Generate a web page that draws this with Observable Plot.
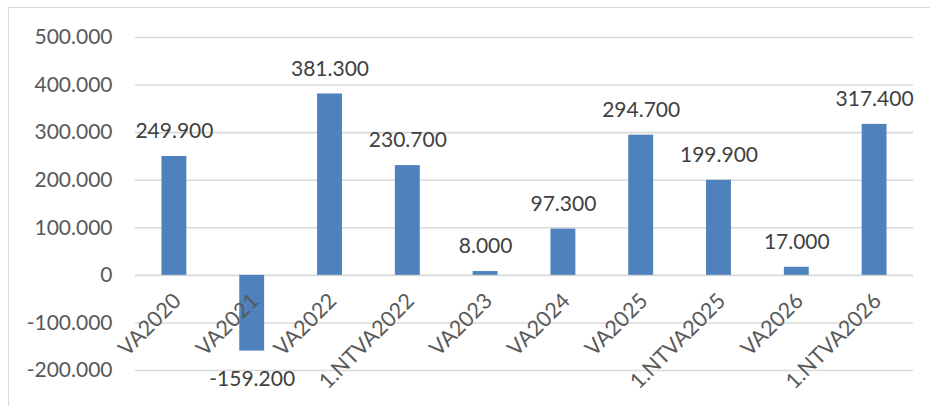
<!DOCTYPE html>
<html><head><meta charset="utf-8">
<script src="https://cdn.jsdelivr.net/npm/d3@7"></script>
<script src="https://cdn.jsdelivr.net/npm/@observablehq/plot@0.6"></script>
<style>
body{margin:0;background:#fff;}
#wrap{position:relative;width:930px;height:406px;overflow:hidden;}
#border{position:absolute;left:8px;top:7px;width:940px;height:420px;border:1.5px solid #d9d9d9;box-sizing:border-box;}
#chart{position:absolute;left:0;top:0;}
</style></head><body><div id="wrap"><div id="border"></div><div id="chart"></div></div>
<script>
const categories = ["VA2020","VA2021","VA2022","1.NTVA2022","VA2023","VA2024","VA2025","1.NTVA2025","VA2026","1.NTVA2026"];
const values = [249900, -159200, 381300, 230700, 8000, 97300, 294700, 199900, 17000, 317400];
const yTicks = [-200000, -100000, 0, 100000, 200000, 300000, 400000, 500000];

const data = categories.map((c, i) => ({cat: c, value: values[i]}));
const fmt = d3.formatLocale({decimal: ",", thousands: ".", grouping: [3], currency: ["", "€"], minus: "-"}).format(",d");
const pos = data.filter(d => d.value >= 0);
const neg = data.filter(d => d.value < 0);

const chart = Plot.plot({
  width: 930,
  height: 406,
  marginLeft: 135,
  marginRight: 17,
  marginTop: 37,
  marginBottom: 36,
  style: {fontFamily: "Lato, 'Open Sans', sans-serif", fontSize: "21px", background: "transparent"},
  x: {domain: categories, paddingInner: 0.68, paddingOuter: 0.34, round: false, axis: null},
  y: {domain: [-200000, 500000], axis: null},
  marks: [
    Plot.ruleY(yTicks, {stroke: "#d9d9d9", strokeWidth: 1.6}),
    Plot.axisY({ticks: yTicks, tickSize: 0, tickPadding: 23, tickFormat: fmt, fill: "#595959", fontSize: 21, label: null}),
    Plot.barY(data, {x: "cat", y: "value", fill: "#4f81bd"}),
    Plot.text(pos, {x: "cat", y: "value", text: d => fmt(d.value), dy: -25, fill: "#404040", fontSize: 21}),
    Plot.text(neg, {x: "cat", y: "value", text: d => fmt(d.value), dy: 28, fill: "#404040", fontSize: 21}),
    Plot.text(data, {x: "cat", y: () => 0, text: "cat", rotate: -45, textAnchor: "end", lineAnchor: "middle", dx: 3, dy: 22, fill: "#595959", fontSize: 21.5})
  ]
});
document.getElementById("chart").appendChild(chart);
</script>
</body></html>
